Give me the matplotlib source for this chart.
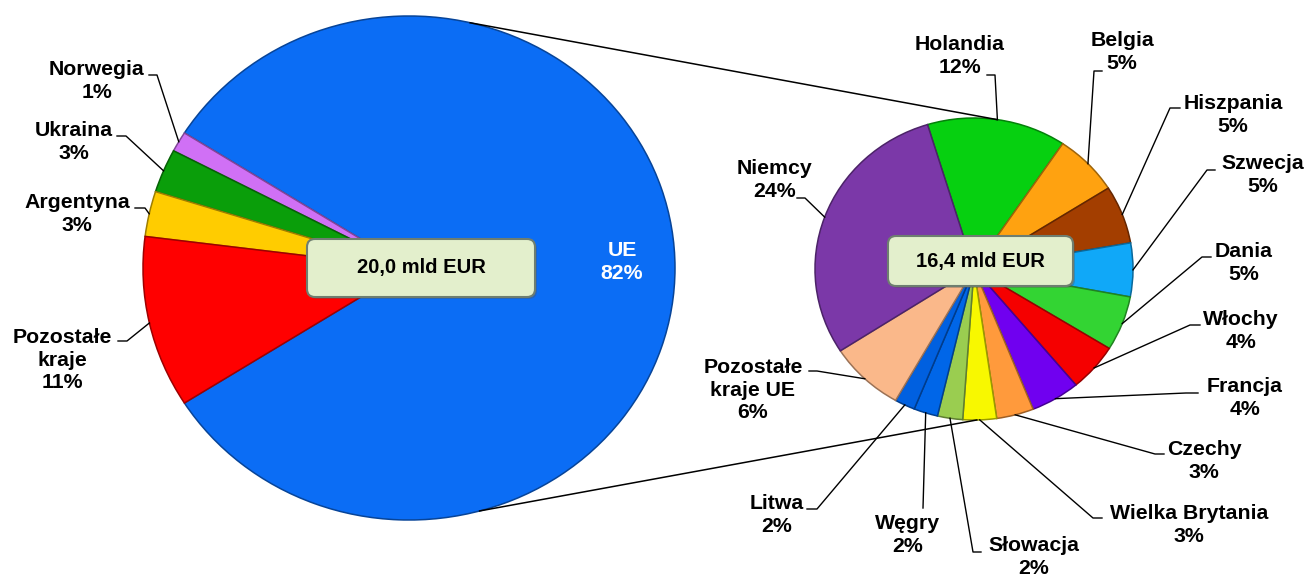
import numpy as np
import matplotlib
matplotlib.use("Agg")
import matplotlib.pyplot as plt
import matplotlib.colors as mcolors
from matplotlib.patches import FancyBboxPatch
from matplotlib.transforms import Affine2D

W, H = 1311, 576

# ---------------- data ----------------
main_names = ["UE", "Norwegia", "Ukraina", "Argentyna", "Pozostałe\nkraje"]
main_values = [82.0, 1.3, 2.8, 2.9, 11.0]
main_colors = ["#0B6DF5", "#D070F5", "#0A9E0A", "#FFCC00", "#FF0000"]
total_all = 20.0

eu_names = ["Holandia", "Belgia", "Hiszpania", "Szwecja", "Dania", "Włochy",
            "Francja", "Czechy", "Wielka Brytania", "Słowacja", "Węgry",
            "Litwa", "Pozostałe\nkraje UE", "Niemcy"]
eu_values = [11.6, 5.4, 5.1, 4.7, 4.8, 4.2, 4.1, 3.1, 2.8, 2.1, 2.0, 1.7, 6.3, 24.1]
eu_colors = ["#06D010", "#FFA210", "#A33E00", "#10A8F8", "#33D433", "#F50000",
             "#7000F0", "#FF9A3C", "#F8F800", "#9ACD50", "#0066E8", "#0060E0",
             "#FAB88A", "#7B38A8"]
total_eu = 16.4

# ---------------- layout (pixel coords, y down) ----------------
L_c, L_rx, L_ry = (409, 268), 266, 252
R_c, R_rx, R_ry = (974, 269), 159, 151

main_text_pos = [(622, 262), (97, 81), (74, 142), (77, 214), (62, 360)]
main_leader = [None, [(157, 75), (149, 75)], [(126, 136), (117, 136)],
               [(145, 208), (135, 208)], [(127, 341), (118, 341)]]

eu_text_pos = [(960, 56), (1122, 52), (1233, 115), (1263, 175), (1244, 263),
               (1241, 331), (1245, 398), (1204, 461), (1189, 525), (1034, 557),
               (908, 535), (777, 515), (753, 390), (775, 180)]
eu_leader = [[(995, 75), (987, 75)], [(1094, 71), (1102, 71)],
             [(1170, 108), (1180, 108)], [(1207, 170), (1215, 170)],
             [(1202, 257), (1211, 257)], [(1190, 325), (1200, 325)],
             [(1186, 393), (1198, 393)], [(1155, 454), (1164, 454)],
             [(1093, 518), (1102, 518)], [(973, 552), (981, 552)],
             [(923, 508), (923, 508)], [(817, 509), (807, 509)],
             [(817, 371), (809, 371)], [(805, 198), (797, 198)]]

FONT = ["Liberation Sans", "DejaVu Sans"]

fig = plt.figure(figsize=(W / 100, H / 100), dpi=100)
ax = fig.add_axes([0, 0, 1, 1])
ax.axis("off")


def darker(c, f=0.62):
    r, g, b = mcolors.to_rgb(c)
    return (r * f, g * f, b * f)


def draw_pie(values, colors, center, rx, ry, start, ccw):
    cx, cy = center[0], H - center[1]
    wedges, _ = ax.pie(values, colors=colors, startangle=start, counterclock=ccw,
                       center=(cx, cy), radius=rx,
                       wedgeprops=dict(linewidth=1.1))
    tr = Affine2D().translate(-cx, -cy).scale(1, ry / rx).translate(cx, cy) + ax.transData
    for w, c in zip(wedges, colors):
        w.set_edgecolor(darker(c))
        w.set_transform(tr)
        w.set_zorder(2)
    return wedges


def ell_point(center, rx, ry, ang):
    a = np.deg2rad(ang)
    return center[0] + rx * np.cos(a), (H - center[1]) + ry * np.sin(a)


Lw = draw_pie(main_values, main_colors, L_c, L_rx, L_ry, 212.4, True)
Rw = draw_pie(eu_values, eu_colors, R_c, R_rx, R_ry, 107.0, False)

ax.set_aspect("auto")
ax.set_xlim(0, W)
ax.set_ylim(0, H)

# connector lines between pies
p1 = ell_point(L_c, L_rx, L_ry, 76.7)
p2 = ell_point(R_c, R_rx, R_ry, 81.7)
ax.plot([p1[0], p2[0]], [p1[1], p2[1]], color="black", lw=1.1, zorder=3)
p1 = ell_point(L_c, L_rx, L_ry, -74.6)
p2 = ell_point(R_c, R_rx, R_ry, -89.0)
ax.plot([p1[0], p2[0]], [p1[1], p2[1]], color="black", lw=1.1, zorder=3)


def labels(wedges, names, values, total_pct_base, center, rx, ry, tpos, leaders, inner_white=None):
    for i, (w, n, v) in enumerate(zip(wedges, names, values)):
        pct = f"{v / total_pct_base * 100:.0f}%"
        tx, ty = tpos[i]
        col = "black"
        if inner_white is not None and i == inner_white:
            col = "white"
        ax.text(tx, H - ty, f"{n}\n{pct}", ha="center", va="center", fontsize=15.3,
                fontweight="bold", family=FONT, color=col, linespacing=1.22, zorder=5)
        if leaders[i] is not None:
            mid = (w.theta1 + w.theta2) / 2
            ax_, ay_ = ell_point(center, rx, ry, mid)
            (ex, ey), (sx, sy) = leaders[i]
            ax.plot([ax_, ex, sx], [ay_, H - ey, H - sy], color="black", lw=1.0, zorder=4)


labels(Lw, main_names, main_values, 100.0, L_c, L_rx, L_ry, main_text_pos, main_leader, inner_white=0)
labels(Rw, eu_names, eu_values, 100.0, R_c, R_rx, R_ry, eu_text_pos, eu_leader)


def total_box(x0, y0, x1, y1, value):
    w, h = x1 - x0, y1 - y0
    sh = FancyBboxPatch((x0 + 2, H - y1 - 2), w, h, boxstyle="round,pad=0,rounding_size=8",
                        fc="#555555", ec="none", alpha=0.35, zorder=6)
    ax.add_patch(sh)
    bx = FancyBboxPatch((x0, H - y1), w, h, boxstyle="round,pad=0,rounding_size=8",
                        fc="#E3EFCC", ec="#6E7E70", lw=1.5, zorder=7)
    ax.add_patch(bx)
    ax.text((x0 + x1) / 2, H - (y0 + y1) / 2, f"{value:.1f}".replace(".", ",") + " mld EUR",
            ha="center", va="center", fontsize=14.5, fontweight="bold", family=FONT,
            color="black", zorder=8)


total_box(307, 239, 535, 297, total_all)
total_box(888, 236, 1073, 286, total_eu)

fig.savefig("out.png", dpi=100)
